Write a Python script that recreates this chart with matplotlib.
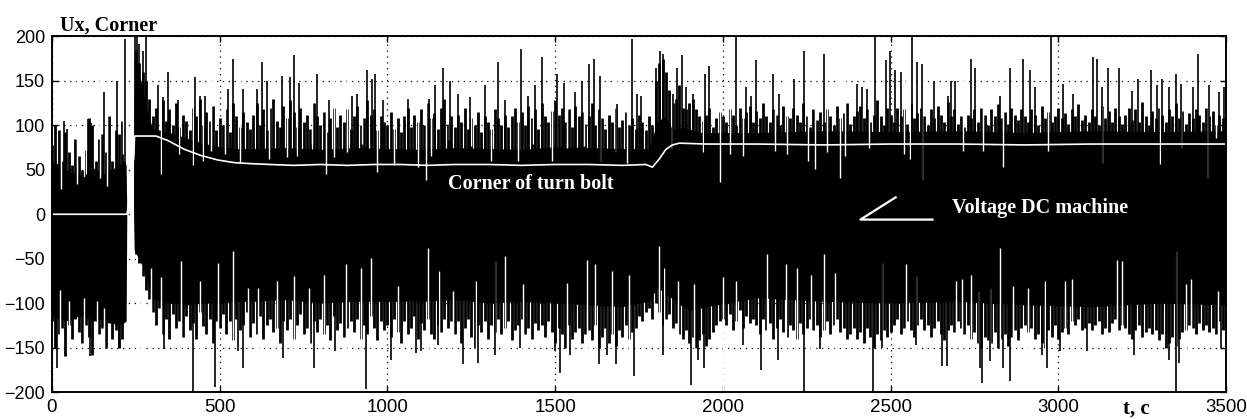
import matplotlib
matplotlib.use("Agg")
import matplotlib.pyplot as plt

# solid core of the voltage signal (t, upper edge, lower edge)
base_t = [0, 25, 50, 75, 100, 125, 150, 175, 200, 215, 221, 223, 243, 245, 265, 285, 300,
          350, 400, 450, 500, 550, 600, 700, 800, 900, 1000, 1100, 1200, 1300, 1400, 1500,
          1600, 1700, 1780, 1805, 1830, 1850, 1880, 1900, 1930, 1950,
          2100, 2300, 2500, 2700, 2900, 3100, 3300, 3500]
base_hi = [60, 55, 48, 45, 42, 52, 45, 50, 55, 60, 55, 0, 0, 175, 150, 115, 96,
           92, 86, 80, 76, 74, 74, 75, 73, 75, 74, 73, 75, 74, 73, 76,
           75, 74, 74, 105, 110, 95, 98, 96, 92, 92,
           92, 94, 93, 94, 92, 94, 93, 94]
base_lo = [-115, -118, -120, -115, -116, -120, -118, -122, -125, -122, -120, 0, 0, -40, -55, -75, -95,
           -100, -102, -100, -100, -98, -98, -96, -100, -98, -98, -98, -96, -100, -98, -100,
           -102, -104, -98, -82, -90, -95, -104, -108, -106, -104,
           -94, -98, -100, -98, -102, -104, -100, -102]

# signal extremes every 10 time units (t = 0, 10, ..., 3490)
col_hi = [78, 100, 95, 60, 92, 70, 55, 85, 65, 50,
          72, 108, 100, 60, 85, 90, 70, 110, 60, 95,
          90, 105, 0, 0, 0, 185, 170, 160, 150, 130,
          110, 120, 95, 128, 105, 118, 100, 125, 98, 112,
          105, 95, 120, 110, 130, 100, 115, 105, 122, 95,
          108, 100, 118, 92, 125, 110, 98, 115, 104, 96,
          112, 125, 100, 118, 95, 120, 130, 105, 98, 122,
          108, 128, 115, 98, 120, 104, 112, 96, 125, 110,
          100, 115, 92, 108, 120, 98, 112, 104, 118, 96,
          110, 122, 100, 108, 128, 112, 118, 95, 110, 104,
          100, 115, 96, 108, 92, 110, 120, 98, 112, 104,
          118, 100, 125, 108, 114, 96, 120, 130, 102, 110,
          98, 112, 104, 120, 96, 108, 100, 115, 92, 110,
          104, 96, 118, 108, 100, 112, 98, 110, 120, 104,
          115, 100, 122, 108, 118, 96, 125, 110, 104, 116,
          128, 112, 120, 104, 118, 98, 122, 110, 115, 102,
          110, 125, 100, 118, 108, 96, 112, 104, 120, 98,
          106, 115, 100, 108, 96, 112, 104, 95, 110, 100,
          150, 170, 175, 160, 140, 125, 130, 145, 120, 118,
          125, 130, 118, 110, 105, 112, 120, 98, 108, 115,
          110, 104, 118, 112, 100, 120, 108, 115, 122, 104,
          116, 108, 125, 110, 104, 118, 112, 100, 122, 110,
          108, 120, 112, 104, 125, 110, 98, 118, 106, 115,
          104, 118, 110, 100, 122, 108, 114, 125, 102, 110,
          116, 122, 108, 118, 104, 112, 128, 110, 100, 120,
          112, 104, 120, 110, 118, 102, 125, 108, 114, 120,
          110, 100, 118, 108, 122, 112, 104, 126, 110, 118,
          102, 110, 98, 112, 108, 118, 104, 120, 112, 100,
          118, 110, 124, 108, 115, 102, 120, 112, 106, 118,
          110, 104, 118, 112, 100, 122, 108, 115, 104, 110,
          120, 108, 114, 102, 118, 110, 124, 106, 112, 104,
          118, 110, 100, 122, 108, 116, 104, 120, 110, 102,
          112, 120, 106, 118, 104, 126, 110, 100, 116, 108,
          120, 112, 104, 118, 110, 125, 108, 116, 102, 114,
          108, 118, 112, 104, 120, 110, 116, 100, 112, 108]
col_lo = [-120, -150, -135, -128, -160, -125, -140, -118, -132, -145,
          -125, -138, -158, -120, -135, -128, -150, -122, -140, -130,
          -150, -140, 0, 0, 0, -45, -55, -70, -85, -95,
          -110, -125, -105, -135, -118, -140, -112, -128, -120, -138,
          -115, -130, -122, -140, -110, -126, -135, -118, -145, -120,
          -128, -112, -135, -120, -142, -118, -130, -125, -110, -138,
          -122, -135, -115, -140, -125, -118, -132, -128, -145, -120,
          -130, -118, -140, -125, -112, -135, -128, -145, -120, -132,
          -118, -135, -125, -142, -115, -130, -122, -138, -128, -120,
          -132, -118, -140, -125, -135, -115, -128, -142, -120, -130,
          -125, -138, -118, -132, -145, -120, -135, -128, -115, -140,
          -122, -130, -118, -135, -140, -125, -132, -118, -128, -120,
          -135, -120, -145, -128, -118, -138, -150, -125, -132, -120,
          -140, -125, -132, -118, -135, -128, -120, -142, -130, -125,
          -118, -135, -128, -140, -122, -130, -125, -138, -120, -132,
          -145, -128, -135, -150, -125, -140, -132, -128, -145, -135,
          -130, -142, -125, -150, -138, -128, -145, -135, -148, -130,
          -138, -125, -140, -132, -128, -115, -120, -110, -105, -118,
          -100, -110, -125, -118, -112, -128, -122, -135, -140, -130,
          -145, -138, -150, -142, -135, -148, -140, -132, -125, -120,
          -118, -125, -112, -130, -120, -108, -128, -115, -122, -118,
          -125, -135, -118, -130, -122, -140, -128, -118, -132, -138,
          -125, -130, -140, -122, -135, -128, -118, -130, -125, -138,
          -130, -120, -135, -125, -118, -132, -128, -140, -135, -128,
          -140, -132, -145, -128, -138, -150, -135, -142, -130, -138,
          -132, -125, -118, -135, -128, -120, -130, -138, -125, -118,
          -130, -125, -138, -128, -120, -135, -142, -130, -125, -132,
          -120, -128, -135, -125, -140, -132, -145, -150, -138, -142,
          -145, -132, -150, -140, -135, -148, -138, -130, -142, -128,
          -125, -132, -128, -140, -135, -145, -150, -130, -138, -125,
          -140, -132, -128, -135, -120, -125, -118, -130, -128, -122,
          -130, -125, -120, -135, -128, -132, -122, -118, -130, -125,
          -128, -135, -140, -130, -125, -138, -132, -128, -135, -130,
          -142, -135, -150, -145, -138, -148, -140, -132, -130, -125,
          -128, -135, -122, -130, -125, -132, -128, -135, -120, -130]

# tall black peaks above the envelope (t, value)
up_peaks = [(35, 105), (45, 96), (107, 107), (117, 103), (155, 137), (195, 150), (217, 197),
            (248, 200), (252, 200), (260, 192), (270, 184), (280, 200), (315, 145), (330, 132),
            (347, 160), (375, 128), (427, 154), (440, 133), (455, 133), (525, 141), (540, 175),
            (570, 141), (610, 141), (625, 171), (642, 150), (685, 156), (710, 154), (722, 179),
            (735, 148), (790, 158), (825, 128), (895, 133), (910, 135), (938, 162), (955, 152),
            (962, 158), (988, 128), (1060, 130), (1125, 130), (1142, 145), (1165, 164), (1187, 150),
            (1210, 135), (1245, 132), (1290, 145), (1330, 171), (1350, 128), (1397, 186),
            (1420, 133), (1440, 145), (1460, 177), (1505, 158), (1525, 148), (1560, 137),
            (1580, 150), (1602, 169), (1615, 175), (1635, 156), (1685, 124), (1728, 197),
            (1745, 135), (1755, 133), (1802, 165), (1812, 184), (1820, 180), (1850, 135),
            (1863, 165), (1878, 179), (1890, 143), (1910, 135), (1948, 158), (1960, 167),
            (2038, 199), (2068, 143), (2085, 133), (2098, 173), (2150, 158), (2168, 135),
            (2212, 152), (2242, 184), (2300, 180), (2400, 147), (2415, 143), (2430, 141),
            (2453, 199), (2485, 173), (2497, 184), (2513, 162), (2530, 160), (2565, 199),
            (2580, 171), (2593, 169), (2630, 150), (2670, 133), (2680, 150), (2693, 150),
            (2740, 175), (2753, 165), (2825, 133), (2855, 165), (2895, 175), (2915, 162),
            (2930, 143), (2978, 199), (3015, 147), (3045, 135), (3103, 177), (3115, 175),
            (3130, 143), (3148, 165), (3180, 165), (3220, 139), (3238, 152), (3275, 162),
            (3295, 145), (3310, 152), (3330, 143), (3350, 158), (3367, 147), (3400, 143),
            (3415, 180), (3450, 145), (3480, 137), (3495, 143)]

# white dips cutting down into the black from above (t, value)
up_dips = [(28, 28), (75, 34), (100, 45), (143, 41), (165, 32), (213, 68), (325, 45), (380, 68),
           (420, 55), (450, 60), (475, 71), (515, 68), (560, 58), (648, 62), (700, 64), (730, 66),
           (775, 79), (817, 45), (842, 64), (880, 70), (925, 79), (970, 47), (1020, 55), (1090, 53),
           (1115, 38), (1130, 66), (1185, 83), (1250, 77), (1310, 60), (1390, 60), (1435, 79),
           (1490, 60), (1535, 75), (1585, 77), (1633, 60), (1680, 70), (1715, 58), (1847, 73),
           (1940, 70), (1990, 36), (2020, 68), (2060, 66), (2155, 71), (2190, 68), (2255, 60),
           (2275, 51), (2310, 70), (2350, 41), (2365, 66), (2435, 75), (2540, 68), (2557, 62),
           (2595, 38), (2715, 71), (2775, 71), (2835, 53), (2970, 71), (3130, 58), (3302, 56),
           (3365, 75), (3445, 41), (3470, 86)]

# tall black peaks below the envelope (t, value)
dn_peaks = [(15, -173), (113, -160), (200, -150), (335, -152), (420, -200), (485, -194),
            (555, -154), (570, -173), (690, -162), (780, -173), (845, -154), (935, -197),
            (1012, -164), (1085, -156), (1100, -154), (1150, -147), (1225, -169), (1270, -167),
            (1320, -158), (1395, -150), (1500, -154), (1515, -179), (1545, -158), (1630, -169),
            (1655, -158), (1680, -169), (1735, -182), (1820, -158), (1905, -192), (1925, -164),
            (1945, -173), (2060, -147), (2115, -175), (2165, -164), (2242, -200), (2290, -152),
            (2447, -200), (2475, -150), (2575, -147), (2653, -171), (2667, -171), (2767, -173),
            (2773, -190), (2795, -165), (2835, -173), (2855, -188), (2950, -158), (2965, -173),
            (3005, -154), (3085, -154), (3225, -158), (3330, -164), (3352, -200), (3360, -167),
            (3485, -150)]

# white dips cutting up into the black from below (t, value)
dn_dips = [(25, -85), (50, -98), (95, -94), (135, -98), (155, -105), (265, -56), (295, -60),
           (325, -71), (385, -53), (440, -75), (495, -55), (540, -41), (585, -83), (615, -83),
           (670, -75), (720, -70), (765, -83), (810, -68), (875, -56), (920, -60), (950, -49),
           (1030, -81), (1120, -38), (1155, -64), (1195, -86), (1265, -75), (1320, -53), (1350, -47),
           (1405, -79), (1535, -77), (1595, -51), (1620, -56), (1670, -64), (1720, -68), (1810, -36),
           (1825, -60), (1865, -75), (1915, -79), (2000, -71), (2040, -75), (2132, -45), (2187, -56),
           (2220, -60), (2262, -68), (2302, -45), (2333, -66), (2475, -55), (2545, -56), (2575, -70),
           (2695, -75), (2713, -73), (2740, -68), (2765, -86), (2797, -83), (2827, -38), (2865, -81),
           (2910, -83), (2960, -75), (3020, -75), (3040, -73), (3175, -51), (3190, -53), (3350, -41),
           (3380, -79), (3395, -73), (3475, -86)]

# corner of the turn bolt (white curve)
corner_t = [0, 224, 244, 246, 310, 345, 395, 445, 495, 545, 590, 650, 720, 800, 880, 960, 1040,
            1120, 1200, 1300, 1400, 1500, 1600, 1700, 1770, 1790, 1810, 1830, 1850, 1870, 1950,
            2100, 2300, 2500, 2700, 2900, 3100, 3300, 3500]
corner_v = [0, 0, 65, 88, 88, 83, 73, 66, 61, 58, 57, 56, 55, 56, 55, 56, 56,
            55, 56, 56, 55, 56, 56, 55, 56, 53, 62, 73, 78, 80, 79,
            79, 78, 79, 79, 78, 79, 79, 79]

col_t = list(range(0, 3500, 10))

fig = plt.figure(figsize=(12.47, 4.19), dpi=100)
ax = fig.add_axes([0.0417, 0.0644, 0.9415, 0.8485])

ax.fill_between(base_t, base_lo, base_hi, color="black", lw=0, zorder=1)
ax.vlines(col_t, col_lo, col_hi, color="black", lw=2.0, zorder=2)
ax.vlines([p[0] for p in up_dips], [p[1] for p in up_dips], 200, color="white", lw=1.0, zorder=3)
ax.vlines([p[0] for p in dn_dips], -200, [p[1] for p in dn_dips], color="white", lw=1.0, zorder=3)
ax.vlines([p[0] for p in up_peaks], 0, [p[1] for p in up_peaks], color="black", lw=1.2, zorder=4)
ax.vlines([p[0] for p in dn_peaks], [p[1] for p in dn_peaks], 0, color="black", lw=1.2, zorder=4)
ax.plot(corner_t, corner_v, color="white", lw=1.2, zorder=5)

# leader mark of the voltage label
ax.plot([2515, 2410, 2625], [19, -6, -6], color="white", lw=1.6, zorder=6)

serif = ["Liberation Serif", "DejaVu Serif"]
ax.text(1428, 34, "Corner of turn bolt", color="white", fontsize=14.5, fontweight="bold",
        family=serif, ha="center", va="center", zorder=7)
ax.text(2945, 7.5, "Voltage DC machine", color="white", fontsize=14.5, fontweight="bold",
        family=serif, ha="center", va="center", zorder=7)
fig.text(0.048, 0.926, "Ux, Corner", fontsize=14.5, fontweight="bold", family=serif,
         ha="left", va="baseline")
fig.text(0.911, 0.012, "t, c", fontsize=15, fontweight="bold", family=serif,
         ha="center", va="baseline")

ax.set_xlim(0, 3500)
ax.set_ylim(-200, 200)
ax.set_xticks(range(0, 3501, 500))
ax.set_yticks(range(-200, 201, 50))
ax.grid(True, color="black", linestyle=(0, (1, 3.7)), lw=0.9, zorder=8)
ax.set_axisbelow(False)
ax.tick_params(direction="in", length=4, width=1, top=True, right=True, pad=5)
for lab in ax.get_xticklabels():
    lab.set_fontsize(13.5)
    lab.set_family("Liberation Sans")
for lab in ax.get_yticklabels():
    lab.set_fontsize(13)
    lab.set_family("Liberation Sans")
for s in ax.spines.values():
    s.set_linewidth(1.4)
    s.set_zorder(9)

fig.savefig("out.png", dpi=100)
